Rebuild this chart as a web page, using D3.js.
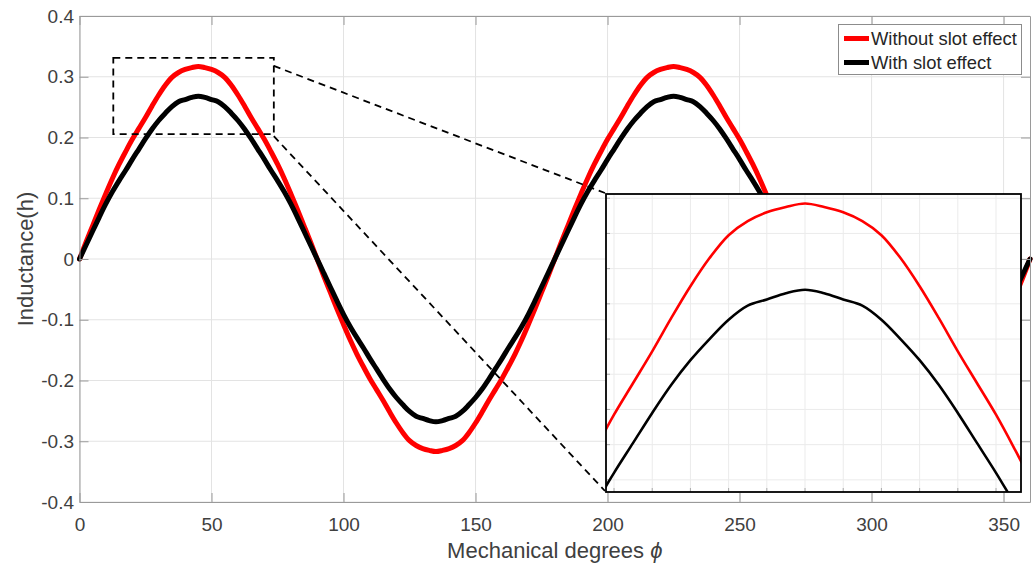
<!DOCTYPE html>
<html><head><meta charset="utf-8">
<script src="https://cdn.jsdelivr.net/npm/d3@7"></script>
<style>
body{margin:0;background:#fff}
svg{display:block;font-family:"Liberation Sans",Arial,Helvetica,sans-serif}
</style>
</head><body>
<svg id="chart" width="1034" height="564"></svg>
<script>
// ---------------- data ----------------
const degrees = [0,2.5,5,7.5,10,12.5,15,17.5,20,22.5,25,27.5,30,32.5,35,37.5,40,42.5,45,47.5,50,52.5,55,57.5,60,62.5,65,67.5,70,72.5,75,77.5,80,82.5,85,87.5,90,
92.5,95,97.5,100,102.5,105,107.5,110,112.5,115,117.5,120,122.5,125,127.5,130,132.5,135,137.5,140,142.5,145,147.5,150,152.5,155,157.5,160,162.5,165,167.5,170,172.5,175,177.5,180,
182.5,185,187.5,190,192.5,195,197.5,200,202.5,205,207.5,210,212.5,215,217.5,220,222.5,225,227.5,230,232.5,235,237.5,240,242.5,245,247.5,250,252.5,255,257.5,260,262.5,265,267.5,270,
272.5,275,277.5,280,282.5,285,287.5,290,292.5,295,297.5,300,302.5,305,307.5,310,312.5,315,317.5,320,322.5,325,327.5,330,332.5,335,337.5,340,342.5,345,347.5,350,352.5,355,357.5,360];

const withoutSlot = [0,.028,.055,.082,.108,.133,.156,.177,.197,.215,.233,.252,.270,.286,.299,.307,.312,.315,.317,.315,.312,.307,.299,.286,.270,.252,.233,.215,.197,.177,.156,.133,.108,.082,.055,.028,0,
-.028,-.055,-.082,-.108,-.133,-.156,-.177,-.197,-.215,-.233,-.252,-.270,-.286,-.299,-.307,-.312,-.315,-.317,-.315,-.312,-.307,-.299,-.286,-.270,-.252,-.233,-.215,-.197,-.177,-.156,-.133,-.108,-.082,-.055,-.028,0,
.028,.055,.082,.108,.133,.156,.177,.197,.215,.233,.252,.270,.286,.299,.307,.312,.315,.317,.315,.312,.307,.299,.286,.270,.252,.233,.215,.197,.177,.156,.133,.108,.082,.055,.028,0,
-.028,-.055,-.082,-.108,-.133,-.156,-.177,-.197,-.215,-.233,-.252,-.270,-.286,-.299,-.307,-.312,-.315,-.317,-.315,-.312,-.307,-.299,-.286,-.270,-.252,-.233,-.215,-.197,-.177,-.156,-.133,-.108,-.082,-.055,-.028,0];

const withSlot = [0,.023,.046,.069,.091,.111,.129,.146,.164,.181,.198,.214,.228,.240,.251,.259,.2625,.266,.268,.266,.2625,.259,.251,.240,.228,.214,.198,.181,.164,.146,.129,.111,.091,.069,.046,.023,0,
-.023,-.046,-.069,-.091,-.111,-.129,-.146,-.164,-.181,-.198,-.214,-.228,-.240,-.251,-.259,-.2625,-.266,-.268,-.266,-.2625,-.259,-.251,-.240,-.228,-.214,-.198,-.181,-.164,-.146,-.129,-.111,-.091,-.069,-.046,-.023,0,
.023,.046,.069,.091,.111,.129,.146,.164,.181,.198,.214,.228,.240,.251,.259,.2625,.266,.268,.266,.2625,.259,.251,.240,.228,.214,.198,.181,.164,.146,.129,.111,.091,.069,.046,.023,0,
-.023,-.046,-.069,-.091,-.111,-.129,-.146,-.164,-.181,-.198,-.214,-.228,-.240,-.251,-.259,-.2625,-.266,-.268,-.266,-.2625,-.259,-.251,-.240,-.228,-.214,-.198,-.181,-.164,-.146,-.129,-.111,-.091,-.069,-.046,-.023,0];

const xTicks = [0,50,100,150,200,250,300,350];
const yTicks = [-0.4,-0.3,-0.2,-0.1,0,0.1,0.2,0.3,0.4];
const yTickLabels = ["-0.4","-0.3","-0.2","-0.1","0","0.1","0.2","0.3","0.4"];
const seriesNames = ["Without slot effect","With slot effect"];
const seriesColors = ["#ff0000","#000000"];

// zoom window (data coords) and inset ranges
const zoomX = [12.8, 73.6];
const zoomY = [0.2054, 0.331];
const insetXDomain = [18.95, 73.27];
const insetYDomain = [0.1531, 0.3224];
const insetXTicks = [20,25,30,35,40,45,50,55,60,65,70];
const insetYTicks = [0.16,0.18,0.20,0.22,0.24,0.26,0.28,0.30,0.32];

// ---------------- layout ----------------
const svg = d3.select("#chart");
const plot = {left:79.5, right:1030, top:16, bottom:502};
const inset = {left:606, right:1021, top:194, bottom:492};

const x = d3.scaleLinear().domain([0,360]).range([plot.left, plot.right]);
const y = d3.scaleLinear().domain([-0.4,0.4]).range([plot.bottom, plot.top]);

const gridColor = "#e3e3e3", axisColor = "#9a9a9a", textColor = "#404040";

// clip
const defs = svg.append("defs");
defs.append("clipPath").attr("id","plotClip").append("rect")
  .attr("x",plot.left-3).attr("y",plot.top).attr("width",plot.right-plot.left+6).attr("height",plot.bottom-plot.top);
defs.append("clipPath").attr("id","insetClip").append("rect")
  .attr("x",inset.left).attr("y",inset.top).attr("width",inset.right-inset.left).attr("height",inset.bottom-inset.top);

// grid
const grid = svg.append("g");
grid.selectAll(".vg").data(xTicks).join("line")
  .attr("x1",d=>x(d)).attr("x2",d=>x(d)).attr("y1",plot.top).attr("y2",plot.bottom)
  .attr("stroke",gridColor).attr("stroke-width",1);
grid.selectAll(".hg").data(yTicks).join("line")
  .attr("x1",plot.left).attr("x2",plot.right).attr("y1",d=>y(d)).attr("y2",d=>y(d))
  .attr("stroke",gridColor).attr("stroke-width",1);

// series
const series = [withoutSlot, withSlot];
const mainLine = d3.line().x((d,i)=>x(degrees[i])).y(d=>y(d)).curve(d3.curveCatmullRom);
const lines = svg.append("g").attr("clip-path","url(#plotClip)");
series.forEach((s,k)=>{
  lines.append("path").datum(s).attr("d",mainLine)
    .attr("fill","none").attr("stroke",seriesColors[k]).attr("stroke-width",5)
    .attr("stroke-linejoin","round").attr("stroke-linecap","round");
});

// axes (box with inward ticks)
function styleAxis(g){
  g.select(".domain").attr("stroke",axisColor).attr("stroke-width",1);
  g.selectAll(".tick line").attr("stroke",axisColor).attr("stroke-width",1);
  g.selectAll(".tick text").attr("fill",textColor).style("font-size","19px")
   .style("font-family",'"Liberation Sans",Arial,sans-serif');
}
svg.append("g").attr("transform",`translate(0,${plot.bottom})`)
  .call(d3.axisBottom(x).tickValues(xTicks).tickSizeInner(-9).tickSizeOuter(0).tickPadding(15.5).tickFormat(d=>String(d)))
  .call(styleAxis);
svg.append("g").attr("transform",`translate(0,${plot.top})`)
  .call(d3.axisTop(x).tickValues(xTicks).tickSizeInner(-9).tickSizeOuter(0).tickFormat(""))
  .call(styleAxis);
svg.append("g").attr("transform",`translate(${plot.left},0)`)
  .call(d3.axisLeft(y).tickValues(yTicks).tickSizeInner(-9).tickSizeOuter(0).tickPadding(5.5)
    .tickFormat((d,i)=>yTickLabels[i]))
  .call(styleAxis);
svg.append("g").attr("transform",`translate(${plot.right},0)`)
  .call(d3.axisRight(y).tickValues(yTicks).tickSizeInner(-9).tickSizeOuter(0).tickFormat(""))
  .call(styleAxis);

// axis labels
svg.append("text").attr("x",(plot.left+plot.right)/2).attr("y",558)
  .attr("text-anchor","middle").attr("fill",textColor).style("font-size","22px")
  .text("Mechanical degrees ")
  .append("tspan").style("font-style","italic").text("ϕ");
svg.append("text").attr("transform",`translate(33,${(plot.top+plot.bottom)/2}) rotate(-90)`)
  .attr("text-anchor","middle").attr("fill",textColor).style("font-size","22px")
  .text("Inductance(h)");

// zoom rectangle and connectors
const ann = svg.append("g").attr("stroke","#000").attr("stroke-width",1.8).attr("fill","none")
  .attr("stroke-dasharray","7,5");
ann.append("rect").attr("x",x(zoomX[0])).attr("y",y(zoomY[1]))
  .attr("width",x(zoomX[1])-x(zoomX[0])).attr("height",y(zoomY[0])-y(zoomY[1]));
ann.append("line").attr("x1",x(zoomX[1])).attr("y1",y(zoomY[1])+8).attr("x2",inset.left-1).attr("y2",inset.top-1);
ann.append("line").attr("x1",x(zoomX[1])).attr("y1",y(zoomY[0])+2).attr("x2",inset.left-1).attr("y2",inset.bottom-1);

// inset
const ix = d3.scaleLinear().domain(insetXDomain).range([inset.left, inset.right]);
const iy = d3.scaleLinear().domain(insetYDomain).range([inset.bottom, inset.top]);
const ig = svg.append("g");
ig.append("rect").attr("x",inset.left).attr("y",inset.top)
  .attr("width",inset.right-inset.left).attr("height",inset.bottom-inset.top).attr("fill","#fff");
ig.selectAll(".ivg").data(insetXTicks).join("line")
  .attr("x1",d=>ix(d)).attr("x2",d=>ix(d)).attr("y1",inset.top).attr("y2",inset.bottom)
  .attr("stroke","#ebebeb").attr("stroke-width",1);
ig.selectAll(".ihg").data(insetYTicks).join("line")
  .attr("x1",inset.left).attr("x2",inset.right).attr("y1",d=>iy(d)).attr("y2",d=>iy(d))
  .attr("stroke","#ebebeb").attr("stroke-width",1);
ig.selectAll(".ixt").data(insetXTicks).join("line")
  .attr("x1",d=>ix(d)).attr("x2",d=>ix(d)).attr("y1",inset.bottom).attr("y2",inset.bottom-4)
  .attr("stroke","#aaa").attr("stroke-width",1);
ig.selectAll(".iyt").data(insetYTicks).join("line")
  .attr("x1",inset.left).attr("x2",inset.left+4).attr("y1",d=>iy(d)).attr("y2",d=>iy(d))
  .attr("stroke","#aaa").attr("stroke-width",1);
const insetLine = d3.line().x((d,i)=>ix(degrees[i])).y(d=>iy(d)).curve(d3.curveCatmullRom);
const il = ig.append("g").attr("clip-path","url(#insetClip)");
series.forEach((s,k)=>{
  il.append("path").datum(s).attr("d",insetLine)
    .attr("fill","none").attr("stroke",seriesColors[k]).attr("stroke-width",2.6)
    .attr("stroke-linejoin","round");
});
ig.append("rect").attr("x",inset.left).attr("y",inset.top)
  .attr("width",inset.right-inset.left).attr("height",inset.bottom-inset.top)
  .attr("fill","none").attr("stroke","#000").attr("stroke-width",1.8);

// legend
const lg = svg.append("g");
lg.append("rect").attr("x",838.5).attr("y",24.5).attr("width",183).attr("height",50)
  .attr("fill","#fff").attr("stroke","#8c8c8c").attr("stroke-width",1);
seriesNames.forEach((name,k)=>{
  const yy = 38.5 + k*24;
  lg.append("line").attr("x1",844).attr("x2",869).attr("y1",yy).attr("y2",yy)
    .attr("stroke",seriesColors[k]).attr("stroke-width",5);
  lg.append("text").attr("x",871).attr("y",yy+6.5).attr("fill","#262626")
    .style("font-size","18.4px").text(name);
});
</script>
</body></html>
